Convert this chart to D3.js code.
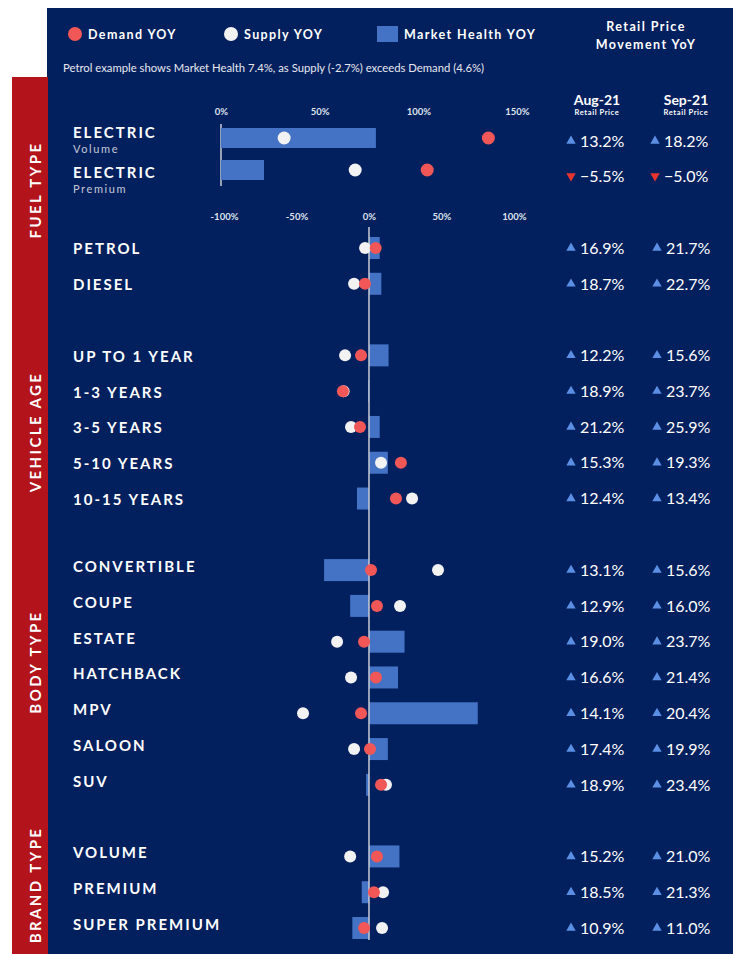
<!DOCTYPE html>
<html>
<head>
<meta charset="utf-8">
<script src="https://cdn.jsdelivr.net/npm/d3@7"></script>
<style>
  body { margin: 0; background: #fff; }
  svg { display: block; font-family: Lato, "Open Sans", sans-serif; }
</style>
</head>
<body>
<svg id="chart" width="733" height="954"></svg>
<script>
// DATA
// electric rows (own 0-150% scale)
const elecLabels = ["Volume", "Premium"];
const elecDemand = [135.5, 104.5];
const elecSupply = [32, 68];
const elecHealth = [78.5, 21.8];
const elecAug = [13.2, -5.5];
const elecSep = [18.2, -5.0];
const elecTicks = [0, 50, 100, 150];

// main rows (-100..100% scale)
const groups = ["FUEL TYPE", "VEHICLE AGE", "BODY TYPE", "BRAND TYPE"];
const categories = ["PETROL", "DIESEL", "UP TO 1 YEAR", "1-3 YEARS", "3-5 YEARS", "5-10 YEARS",
  "10-15 YEARS", "CONVERTIBLE", "COUPE", "ESTATE", "HATCHBACK", "MPV", "SALOON", "SUV",
  "VOLUME", "PREMIUM", "SUPER PREMIUM"];
const categoryGroup = [0, 0, 1, 1, 1, 1, 1, 2, 2, 2, 2, 2, 2, 2, 3, 3, 3];
const demand = [4.6, -2.8, -5.5, -18, -6.2, 22, 18.6, 1.4, 5.5, -3.4, 4.8, -5.5, 0.7, 8.3, 5.5, 3.4, -3.4];
const supply = [-2.7, -10.3, -16.5, -17.5, -12.4, 8.3, 29.7, 47.6, 21.4, -22, -12.4, -45.5, -10.3, 11.7, -13, 9.7, 9];
const health = [7.4, 8.5, 13.5, -0.6, 7.4, 13, -8.3, -31, -13, 24.5, 20, 75, 13, -2, 21, -5, -11.5];
const aug = [16.9, 18.7, 12.2, 18.9, 21.2, 15.3, 12.4, 13.1, 12.9, 19.0, 16.6, 14.1, 17.4, 18.9, 15.2, 18.5, 10.9];
const sep = [21.7, 22.7, 15.6, 23.7, 25.9, 19.3, 13.4, 15.6, 16.0, 23.7, 21.4, 20.4, 19.9, 23.4, 21.0, 21.3, 11.0];
const mainTicks = [-100, -50, 0, 50, 100];

// SETUP
const navy = "#03205e", stripRed = "#b3131b", barBlue = "#4472c4",
      dotRed = "#f25757", dotWhite = "#f2f2f2", upBlue = "#5b8fe3", downRed = "#e8342e";
const groupLabelY = [190, 432, 662, 885];

const svg = d3.select("#chart");

// background panels
svg.append("rect").attr("x", 47).attr("y", 8).attr("width", 686).attr("height", 946).attr("fill", navy);
svg.append("rect").attr("x", 12).attr("y", 77).attr("width", 36).attr("height", 877).attr("fill", stripRed);

// LEGEND
const legend = svg.append("g").attr("fill", "#fff").style("font-weight", 700)
  .style("font-size", "12.5px").style("letter-spacing", "1.4px");
legend.append("circle").attr("cx", 75).attr("cy", 34).attr("r", 7).attr("fill", dotRed);
legend.append("text").attr("x", 88).attr("y", 38.5).text("Demand YOY");
legend.append("circle").attr("cx", 231).attr("cy", 34).attr("r", 7).attr("fill", dotWhite);
legend.append("text").attr("x", 244).attr("y", 38.5).text("Supply YOY");
legend.append("rect").attr("x", 377).attr("y", 26).attr("width", 21).attr("height", 16).attr("fill", barBlue);
legend.append("text").attr("x", 404).attr("y", 38.5).text("Market Health YOY");
legend.append("text").attr("x", 646).attr("y", 31).attr("text-anchor", "middle").text("Retail Price");
legend.append("text").attr("x", 646).attr("y", 49).attr("text-anchor", "middle").text("Movement YoY");

svg.append("text").attr("x", 63).attr("y", 72).attr("fill", "#e6e8f0")
  .style("font-size", "11.3px")
  .text("Petrol example shows Market Health 7.4%, as Supply (-2.7%) exceeds Demand (4.6%)");

// column headers
[["Aug-21", 597], ["Sep-21", 686]].forEach(([t, cx]) => {
  svg.append("text").attr("x", cx).attr("y", 105).attr("text-anchor", "middle")
    .attr("fill", "#fff").style("font-weight", 700).style("font-size", "14px").text(t);
  svg.append("text").attr("x", cx).attr("y", 115).attr("text-anchor", "middle")
    .attr("fill", "#fff").style("font-weight", 700).style("font-size", "7.5px")
    .style("letter-spacing", "0.6px").text("Retail Price");
});

// group labels in red strip
groups.forEach((g, i) => {
  svg.append("text")
    .attr("transform", `translate(36,${groupLabelY[i]}) rotate(-90)`)
    .attr("text-anchor", "middle").attr("dy", "0.35em")
    .attr("fill", "#fff").style("font-weight", 700).style("font-size", "15px")
    .style("letter-spacing", "2.4px").text(g);
});

// helper: retail price cell with triangle
function priceCell(v, xTri, yc) {
  const tri = d3.symbol().type(d3.symbolTriangle).size(38);
  svg.append("path").attr("d", tri)
    .attr("transform", `translate(${xTri},${yc}) rotate(${v < 0 ? 180 : 0})`)
    .attr("fill", v < 0 ? downRed : upBlue);
  svg.append("text").attr("x", xTri + 9).attr("y", yc).attr("dy", "0.36em")
    .attr("fill", "#fff").style("font-size", "16px").text(d3.format(".1f")(v) + "%");
}

/* ===================== ELECTRIC ===================== */
const xTop = d3.scaleLinear().domain([0, 150]).range([221, 517]);
const yTop = d3.scalePoint().domain(elecLabels).range([138, 170]);
const elecLabelOffset = [0, 8];

const topAxis = svg.append("g").attr("transform", "translate(0,115)")
  .call(d3.axisTop(xTop).tickValues(elecTicks).tickSize(0).tickPadding(0).tickFormat(d => d + "%"));
topAxis.select(".domain").remove();
topAxis.selectAll("text").attr("fill", "#dfe3ee").style("font-size", "9.5px").style("font-weight", 700)
  .style("font-family", "Lato, sans-serif");

svg.append("line").attr("x1", xTop(0)).attr("x2", xTop(0)).attr("y1", 124).attr("y2", 186)
  .attr("stroke", "#c9ccd6").attr("stroke-width", 1.5);

svg.selectAll(".ebar").data(elecLabels).enter().append("rect")
  .attr("x", xTop(0))
  .attr("y", d => yTop(d) - 10)
  .attr("width", (d, i) => xTop(elecHealth[i]) - xTop(0))
  .attr("height", 20)
  .attr("fill", barBlue);

svg.selectAll(".esup").data(elecLabels).enter().append("circle")
  .attr("cx", (d, i) => xTop(elecSupply[i])).attr("cy", d => yTop(d))
  .attr("r", 6.5).attr("fill", dotWhite);
svg.selectAll(".edem").data(elecLabels).enter().append("circle")
  .attr("cx", (d, i) => xTop(elecDemand[i])).attr("cy", d => yTop(d))
  .attr("r", 6.5).attr("fill", dotRed);

elecLabels.forEach((d, i) => {
  const yc = yTop(d);
  const base = yc + elecLabelOffset[i];
  svg.append("text").attr("x", 73).attr("y", base).attr("fill", "#fff")
    .style("font-weight", 700).style("font-size", "15px").style("letter-spacing", "2px").text("ELECTRIC");
  svg.append("text").attr("x", 73).attr("y", base + 14.5).attr("fill", "#c3c8d8")
    .style("font-size", "11px").style("letter-spacing", "1.6px").text(d);
  priceCell(elecAug[i], 571, yc + 3 + i * 3);
  priceCell(elecSep[i], 655, yc + 3 + i * 3);
});

/* ===================== MAIN CHART ===================== */
const x = d3.scaleLinear().domain([-100, 100]).range([224, 514]);
// slots leave one empty row between groups
const slot = i => i + categoryGroup[i];
const y = d3.scaleLinear().domain([0, 19]).range([248, 928]);

const mainAxis = svg.append("g").attr("transform", "translate(0,220)")
  .call(d3.axisTop(x).tickValues(mainTicks).tickSize(0).tickPadding(0).tickFormat(d => d + "%"));
mainAxis.select(".domain").remove();
mainAxis.selectAll("text").attr("fill", "#dfe3ee").style("font-size", "9.5px").style("font-weight", 700)
  .style("font-family", "Lato, sans-serif");

// bars
svg.selectAll(".bar").data(categories).enter().append("rect")
  .attr("x", (d, i) => Math.min(x(0), x(health[i])))
  .attr("y", (d, i) => y(slot(i)) - 11)
  .attr("width", (d, i) => Math.abs(x(health[i]) - x(0)))
  .attr("height", 22)
  .attr("fill", barBlue);

// zero line
svg.append("line").attr("x1", x(0)).attr("x2", x(0)).attr("y1", 227).attr("y2", 940)
  .attr("stroke", "#c9ccd6").attr("stroke-width", 1.5);

// dots
svg.selectAll(".sup").data(categories).enter().append("circle")
  .attr("cx", (d, i) => x(supply[i])).attr("cy", (d, i) => y(slot(i)))
  .attr("r", 6).attr("fill", dotWhite);
svg.selectAll(".dem").data(categories).enter().append("circle")
  .attr("cx", (d, i) => x(demand[i])).attr("cy", (d, i) => y(slot(i)))
  .attr("r", 6).attr("fill", dotRed);

// labels + retail price columns
categories.forEach((c, i) => {
  const yc = y(slot(i));
  const off = categoryGroup[i] >= 2 ? -3.5 : 1;
  svg.append("text").attr("x", 73).attr("y", yc + off).attr("dy", "0.36em")
    .attr("fill", "#fff").style("font-weight", 700).style("font-size", "15px")
    .style("letter-spacing", "2px").text(c);
  priceCell(aug[i], 571, yc);
  priceCell(sep[i], 657, yc);
});
</script>
</body>
</html>
